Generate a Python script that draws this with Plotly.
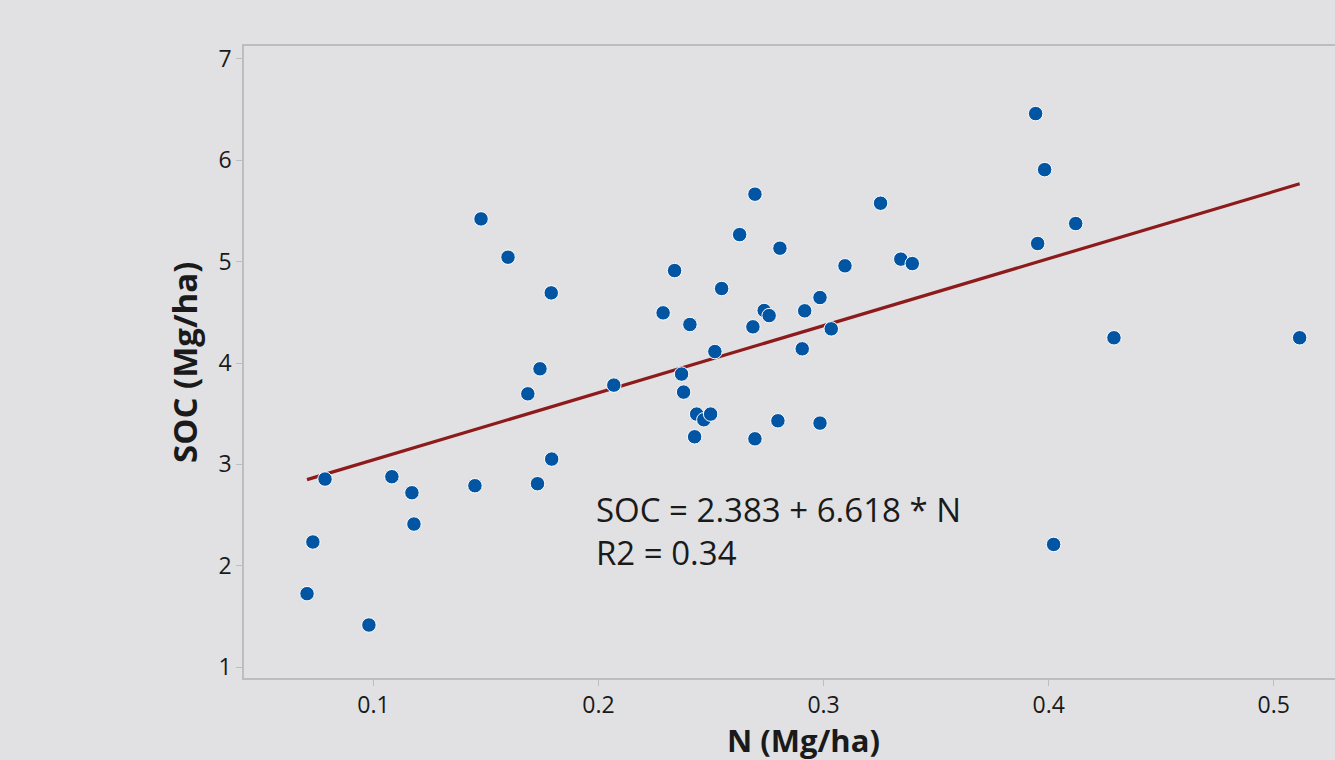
import plotly.graph_objects as go

# Data
n_values = [0.0705, 0.0731, 0.0785, 0.0980, 0.1082, 0.1171, 0.1180, 0.1451, 0.1478, 0.1598,
            0.1686, 0.1729, 0.1740, 0.1790, 0.1792, 0.2068, 0.2287, 0.2338, 0.2369, 0.2378,
            0.2406, 0.2427, 0.2436, 0.2468, 0.2498, 0.2517, 0.2547, 0.2627, 0.2686, 0.2695,
            0.2695, 0.2736, 0.2758, 0.2797, 0.2806, 0.2905, 0.2916, 0.2984, 0.2984, 0.3034,
            0.3095, 0.3253, 0.3343, 0.3394, 0.3942, 0.3951, 0.3982, 0.4022, 0.4120, 0.4290,
            0.5115]
soc_values = [1.724, 2.234, 2.855, 1.415, 2.878, 2.720, 2.411, 2.789, 5.422, 5.044,
              3.696, 2.809, 3.943, 4.692, 3.052, 3.782, 4.495, 4.912, 3.891, 3.713,
              4.380, 3.272, 3.496, 3.440, 3.496, 4.113, 4.735, 5.267, 4.357, 5.666,
              3.252, 4.518, 4.468, 3.430, 5.133, 4.140, 4.515, 4.646, 3.407, 4.337,
              4.959, 5.577, 5.025, 4.981, 6.461, 5.179, 5.908, 2.210, 5.376, 4.249,
              4.249]
intercept = 2.383
slope = 6.618
r2 = 0.34
x_ticks = [0.1, 0.2, 0.3, 0.4, 0.5]
y_ticks = [1, 2, 3, 4, 5, 6, 7]

fit_x = [min(n_values), max(n_values)]
fit_y = [intercept + slope * v for v in fit_x]

BG = "#E1E1E3"
FONT = "Open Sans"

fig = go.Figure()
fig.add_trace(go.Scatter(
    x=fit_x, y=fit_y, mode="lines",
    line=dict(color="#8E1B1B", width=3.2),
    hoverinfo="skip", showlegend=False))
fig.add_trace(go.Scatter(
    x=n_values, y=soc_values, mode="markers",
    marker=dict(size=14.5, color="#0255A3", line=dict(color="white", width=1)),
    showlegend=False))

fig.update_layout(
    width=1335, height=760,
    margin=dict(l=244, r=0, t=46, b=82),
    paper_bgcolor=BG, plot_bgcolor=BG,
    font=dict(family=FONT, color="#1a1a1a"),
    xaxis=dict(range=[0.0425, 0.5272], tickvals=x_ticks, ticktext=[str(v) for v in x_ticks],
               showgrid=False, zeroline=False, showline=True, mirror=True,
               linecolor="#BDBDBD", linewidth=1.5, ticks="outside", ticklen=6,
               tickcolor="#BDBDBD", tickfont=dict(size=23, family=FONT, color="#1a1a1a")),
    yaxis=dict(range=[0.892, 7.128], tickvals=y_ticks, ticktext=[str(v) for v in y_ticks],
               showgrid=False, zeroline=False, showline=True, mirror=False,
               linecolor="#BDBDBD", linewidth=1.5, ticks="outside", ticklen=6,
               tickcolor="#BDBDBD", tickfont=dict(size=23, family=FONT, color="#1a1a1a")),
)

PL, PR, PT, PB = 244, 1335, 46, 678
def px(xp):
    return (xp - PL) / (PR - PL)
def py(yp):
    return (PB - yp) / (PB - PT)

fig.add_annotation(text="<b>N (Mg/ha)</b>", xref="paper", yref="paper",
                   x=px(803), y=py(739.5), xanchor="center", yanchor="middle",
                   showarrow=False, font=dict(size=31, family=FONT, color="#1a1a1a"))
fig.add_annotation(text="<b>SOC (Mg/ha)</b>", xref="paper", yref="paper",
                   x=px(184), y=py(363), xanchor="center", yanchor="middle", textangle=-90,
                   showarrow=False, font=dict(size=33, family=FONT, color="#1a1a1a"))
fig.add_annotation(text=f"SOC = {intercept:.3f} + {slope:.3f} * N<br>R2 = {r2:.2f}",
                   xref="paper", yref="paper", align="left",
                   x=px(594), y=py(531), xanchor="left", yanchor="middle",
                   showarrow=False, font=dict(size=33, family=FONT, color="#1a1a1a"))

fig.write_html("out.html", config={"displayModeBar": False},
               post_script="document.body.style.margin='0';document.body.style.overflow='hidden';"
                           "document.body.style.background='" + BG + "';")
